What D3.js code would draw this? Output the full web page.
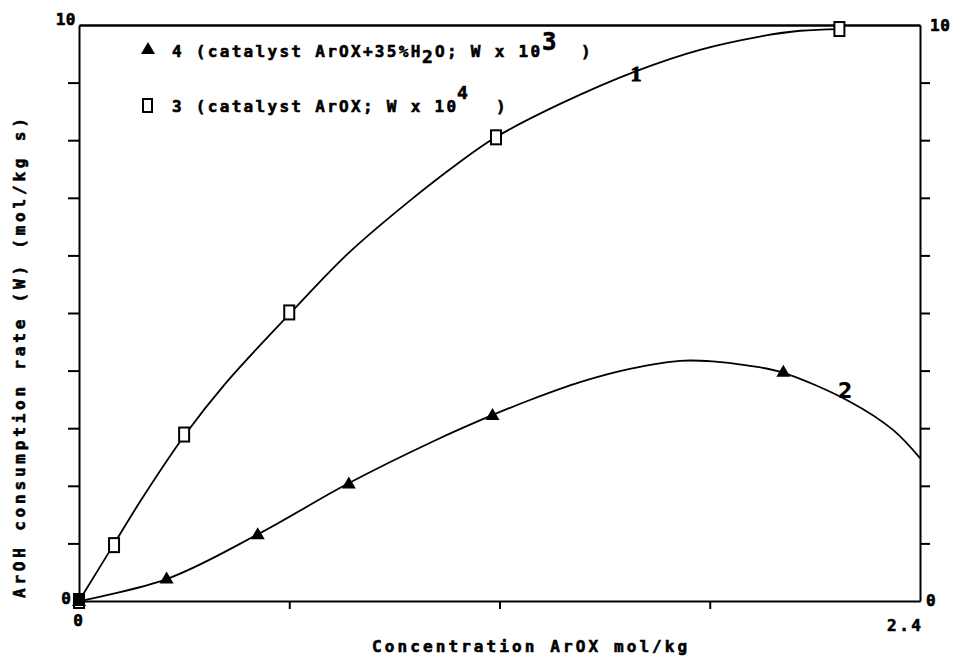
<!DOCTYPE html>
<html>
<head>
<meta charset="utf-8">
<script src="https://cdn.jsdelivr.net/npm/d3@7"></script>
<style>
  html, body { margin: 0; padding: 0; background: #fff; }
  svg { display: block; }
  .lbl { font-family: "DejaVu Sans Mono", "Liberation Mono", monospace; font-weight: bold; fill: #000; stroke: #000; stroke-width: 0.6px; }
</style>
</head>
<body>
<div id="chart"></div>
<script>
// ---- data ----
const xDomain = [0, 2.4];
const yDomain = [0, 10];
const xTickValues = [0.6, 1.2, 1.8];
const yTickValues = [1, 2, 3, 4, 5, 6, 7, 8, 9];

// series 3 (catalyst ArOX), squares
const sqX = [0, 0.10, 0.30, 0.60, 1.19, 2.17];
const sqY = [0, 0.97, 2.89, 5.01, 8.05, 9.93];
// series 4 (catalyst ArOX+35%H2O), triangles
const triX = [0, 0.25, 0.51, 0.77, 1.18, 2.01];
const triY = [0, 0.39, 1.16, 2.04, 3.23, 3.98];

// fitted curve 1 (through squares)
const curve1X = [0, 0.098, 0.179, 0.303, 0.417, 0.605, 0.769, 0.940, 1.082, 1.189, 1.373, 1.590, 1.772, 1.943, 2.058, 2.172];
const curve1Y = [0, 0.97, 1.77, 2.89, 3.77, 5.01, 6.04, 6.93, 7.60, 8.05, 8.63, 9.20, 9.57, 9.80, 9.90, 9.93];
// fitted curve 2 (through triangles)
const curve2X = [0, 0.254, 0.511, 0.768, 1.010, 1.181, 1.287, 1.430, 1.572, 1.715, 1.809, 1.906, 2.006, 2.200, 2.323, 2.400];
const curve2Y = [0, 0.39, 1.16, 2.04, 2.77, 3.23, 3.49, 3.80, 4.03, 4.17, 4.16, 4.09, 3.97, 3.46, 2.97, 2.48];

const xTickLabels = ["0", "2.4"];
const yTickLabels = ["0", "10"];
const curveLabels = ["1", "2"];
const xTitle = "Concentration ArOX mol/kg";
const yTitle = "ArOH consumption rate (W) (mol/kg s)";
const legend4 = ["4 (catalyst ArOX+35%H", "2", "O; W x 10", "3", ")"];
const legend3 = ["3 (catalyst ArOX; W x 10", "4", ")"];

// ---- drawing ----
const W = 955, H = 657;
const svg = d3.select("#chart").append("svg").attr("width", W).attr("height", H);

const x = d3.scaleLinear().domain(xDomain).range([79, 920]);
const y = d3.scaleLinear().domain(yDomain).range([601, 25]);

// axes
const gL = svg.append("g").attr("transform", `translate(${x(0)},0)`)
  .call(d3.axisLeft(y).tickValues(yTickValues).tickSize(11).tickSizeOuter(0).tickFormat(""));
const gR = svg.append("g").attr("transform", `translate(${x(2.4)},0)`)
  .call(d3.axisRight(y).tickValues(yTickValues).tickSize(10).tickSizeOuter(0).tickFormat(""));
const gB = svg.append("g").attr("transform", `translate(0,${y(0)})`)
  .call(d3.axisBottom(x).tickValues(xTickValues).tickSize(8).tickSizeOuter(0).tickFormat(""));
const gT = svg.append("g").attr("transform", `translate(0,${y(10)})`)
  .call(d3.axisTop(x).tickValues([]).tickSizeOuter(0));
[gL, gR, gB, gT].forEach(g => {
  g.selectAll("path.domain").attr("stroke", "#000").attr("stroke-width", 2);
  g.selectAll(".tick line").attr("stroke", "#000").attr("stroke-width", 2);
});
gT.select("path.domain").attr("stroke-width", 2.5);

// curves
const line = d3.line().x(d => x(d[0])).y(d => y(d[1])).curve(d3.curveCatmullRom.alpha(0.5));
const c1 = curve1X.map((v, i) => [v, curve1Y[i]]);
const c2 = curve2X.map((v, i) => [v, curve2Y[i]]);
svg.append("path").datum(c1).attr("d", line).attr("fill", "none").attr("stroke", "#000").attr("stroke-width", 1.8);
svg.append("path").datum(c2).attr("d", line).attr("fill", "none").attr("stroke", "#000").attr("stroke-width", 1.8);

// markers
const sq = sqX.map((v, i) => [v, sqY[i]]);
const tri = triX.map((v, i) => [v, triY[i]]);
svg.selectAll("rect.sq").data(sq).enter().append("rect")
  .attr("class", "sq")
  .attr("x", d => x(d[0]) - 5).attr("y", d => y(d[1]) - 7)
  .attr("width", 10).attr("height", 14)
  .attr("fill", "#fff").attr("stroke", "#000").attr("stroke-width", 2);
const triPath = "M0,-7 L7,5 L-7,5 Z";
svg.selectAll("path.tri").data(tri).enter().append("path")
  .attr("class", "tri")
  .attr("d", triPath)
  .attr("transform", d => `translate(${x(d[0])},${y(d[1])})`)
  .attr("fill", "#000");
// origin blob
svg.append("rect").attr("x", x(0) - 5).attr("y", y(0) - 7).attr("width", 10).attr("height", 12).attr("fill", "#000");

// tick labels
svg.append("text").attr("class", "lbl").attr("x", 76).attr("y", 25).attr("text-anchor", "end")
  .attr("font-size", 16).style("letter-spacing", "0.5px").text(yTickLabels[1]);
svg.append("text").attr("class", "lbl").attr("x", 71).attr("y", 604).attr("text-anchor", "end")
  .attr("font-size", 16).text(yTickLabels[0]);
svg.append("text").attr("class", "lbl").attr("x", 930).attr("y", 31)
  .attr("font-size", 16).style("letter-spacing", "0.5px").text(yTickLabels[1]);
svg.append("text").attr("class", "lbl").attr("x", 926).attr("y", 606)
  .attr("font-size", 16).text(yTickLabels[0]);
svg.append("text").attr("class", "lbl").attr("x", x(0) - 1).attr("y", 626).attr("text-anchor", "middle")
  .attr("font-size", 16).text(xTickLabels[0]);
svg.append("text").attr("class", "lbl").attr("x", 887).attr("y", 631)
  .attr("font-size", 16).style("letter-spacing", "2.5px").text(xTickLabels[1]);

// axis titles
svg.append("text").attr("class", "lbl").attr("x", 372).attr("y", 652)
  .attr("font-size", 16).style("letter-spacing", "3.1px").text(xTitle);
svg.append("text").attr("class", "lbl")
  .attr("transform", "translate(25,598) rotate(-90)")
  .attr("font-size", 16).style("letter-spacing", "3.8px").text(yTitle);

// legend
svg.append("path").attr("d", triPath).attr("transform", "translate(148,49)").attr("fill", "#000");
svg.append("rect").attr("x", 143).attr("y", 99).attr("width", 9).attr("height", 13)
  .attr("fill", "#fff").attr("stroke", "#000").attr("stroke-width", 2);

const t4 = svg.append("text").attr("class", "lbl").attr("y", 57).attr("font-size", 16).style("letter-spacing", "2.3px");
t4.append("tspan").attr("x", 172).text(legend4[0]);
t4.append("tspan").attr("x", 422).attr("y", 63).attr("font-size", 18).style("letter-spacing", "0px").text(legend4[1]);
t4.append("tspan").attr("x", 435).attr("y", 57).text(legend4[2]);
t4.append("tspan").attr("x", 542).attr("y", 50).attr("font-size", 24).style("letter-spacing", "0px").text(legend4[3]);
t4.append("tspan").attr("x", 581).attr("y", 57).text(legend4[4]);

const t3 = svg.append("text").attr("class", "lbl").attr("y", 112).attr("font-size", 16).style("letter-spacing", "2.3px");
t3.append("tspan").attr("x", 172).text(legend3[0]);
t3.append("tspan").attr("x", 457).attr("y", 99).attr("font-size", 18).style("letter-spacing", "0px").text(legend3[1]);
t3.append("tspan").attr("x", 496).attr("y", 112).text(legend3[2]);

// curve labels
svg.append("text").attr("x", 636).attr("y", 81).attr("text-anchor", "middle")
  .attr("font-family", "Liberation Serif, serif").attr("font-weight", "bold").attr("font-size", 22)
  .attr("stroke", "#000").attr("stroke-width", 1)
  .text(curveLabels[0]);
svg.append("text").attr("x", 845).attr("y", 398).attr("text-anchor", "middle")
  .attr("font-family", "DejaVu Sans, sans-serif").attr("font-weight", "bold").attr("font-size", 21)
  .text(curveLabels[1]);
</script>
</body>
</html>
